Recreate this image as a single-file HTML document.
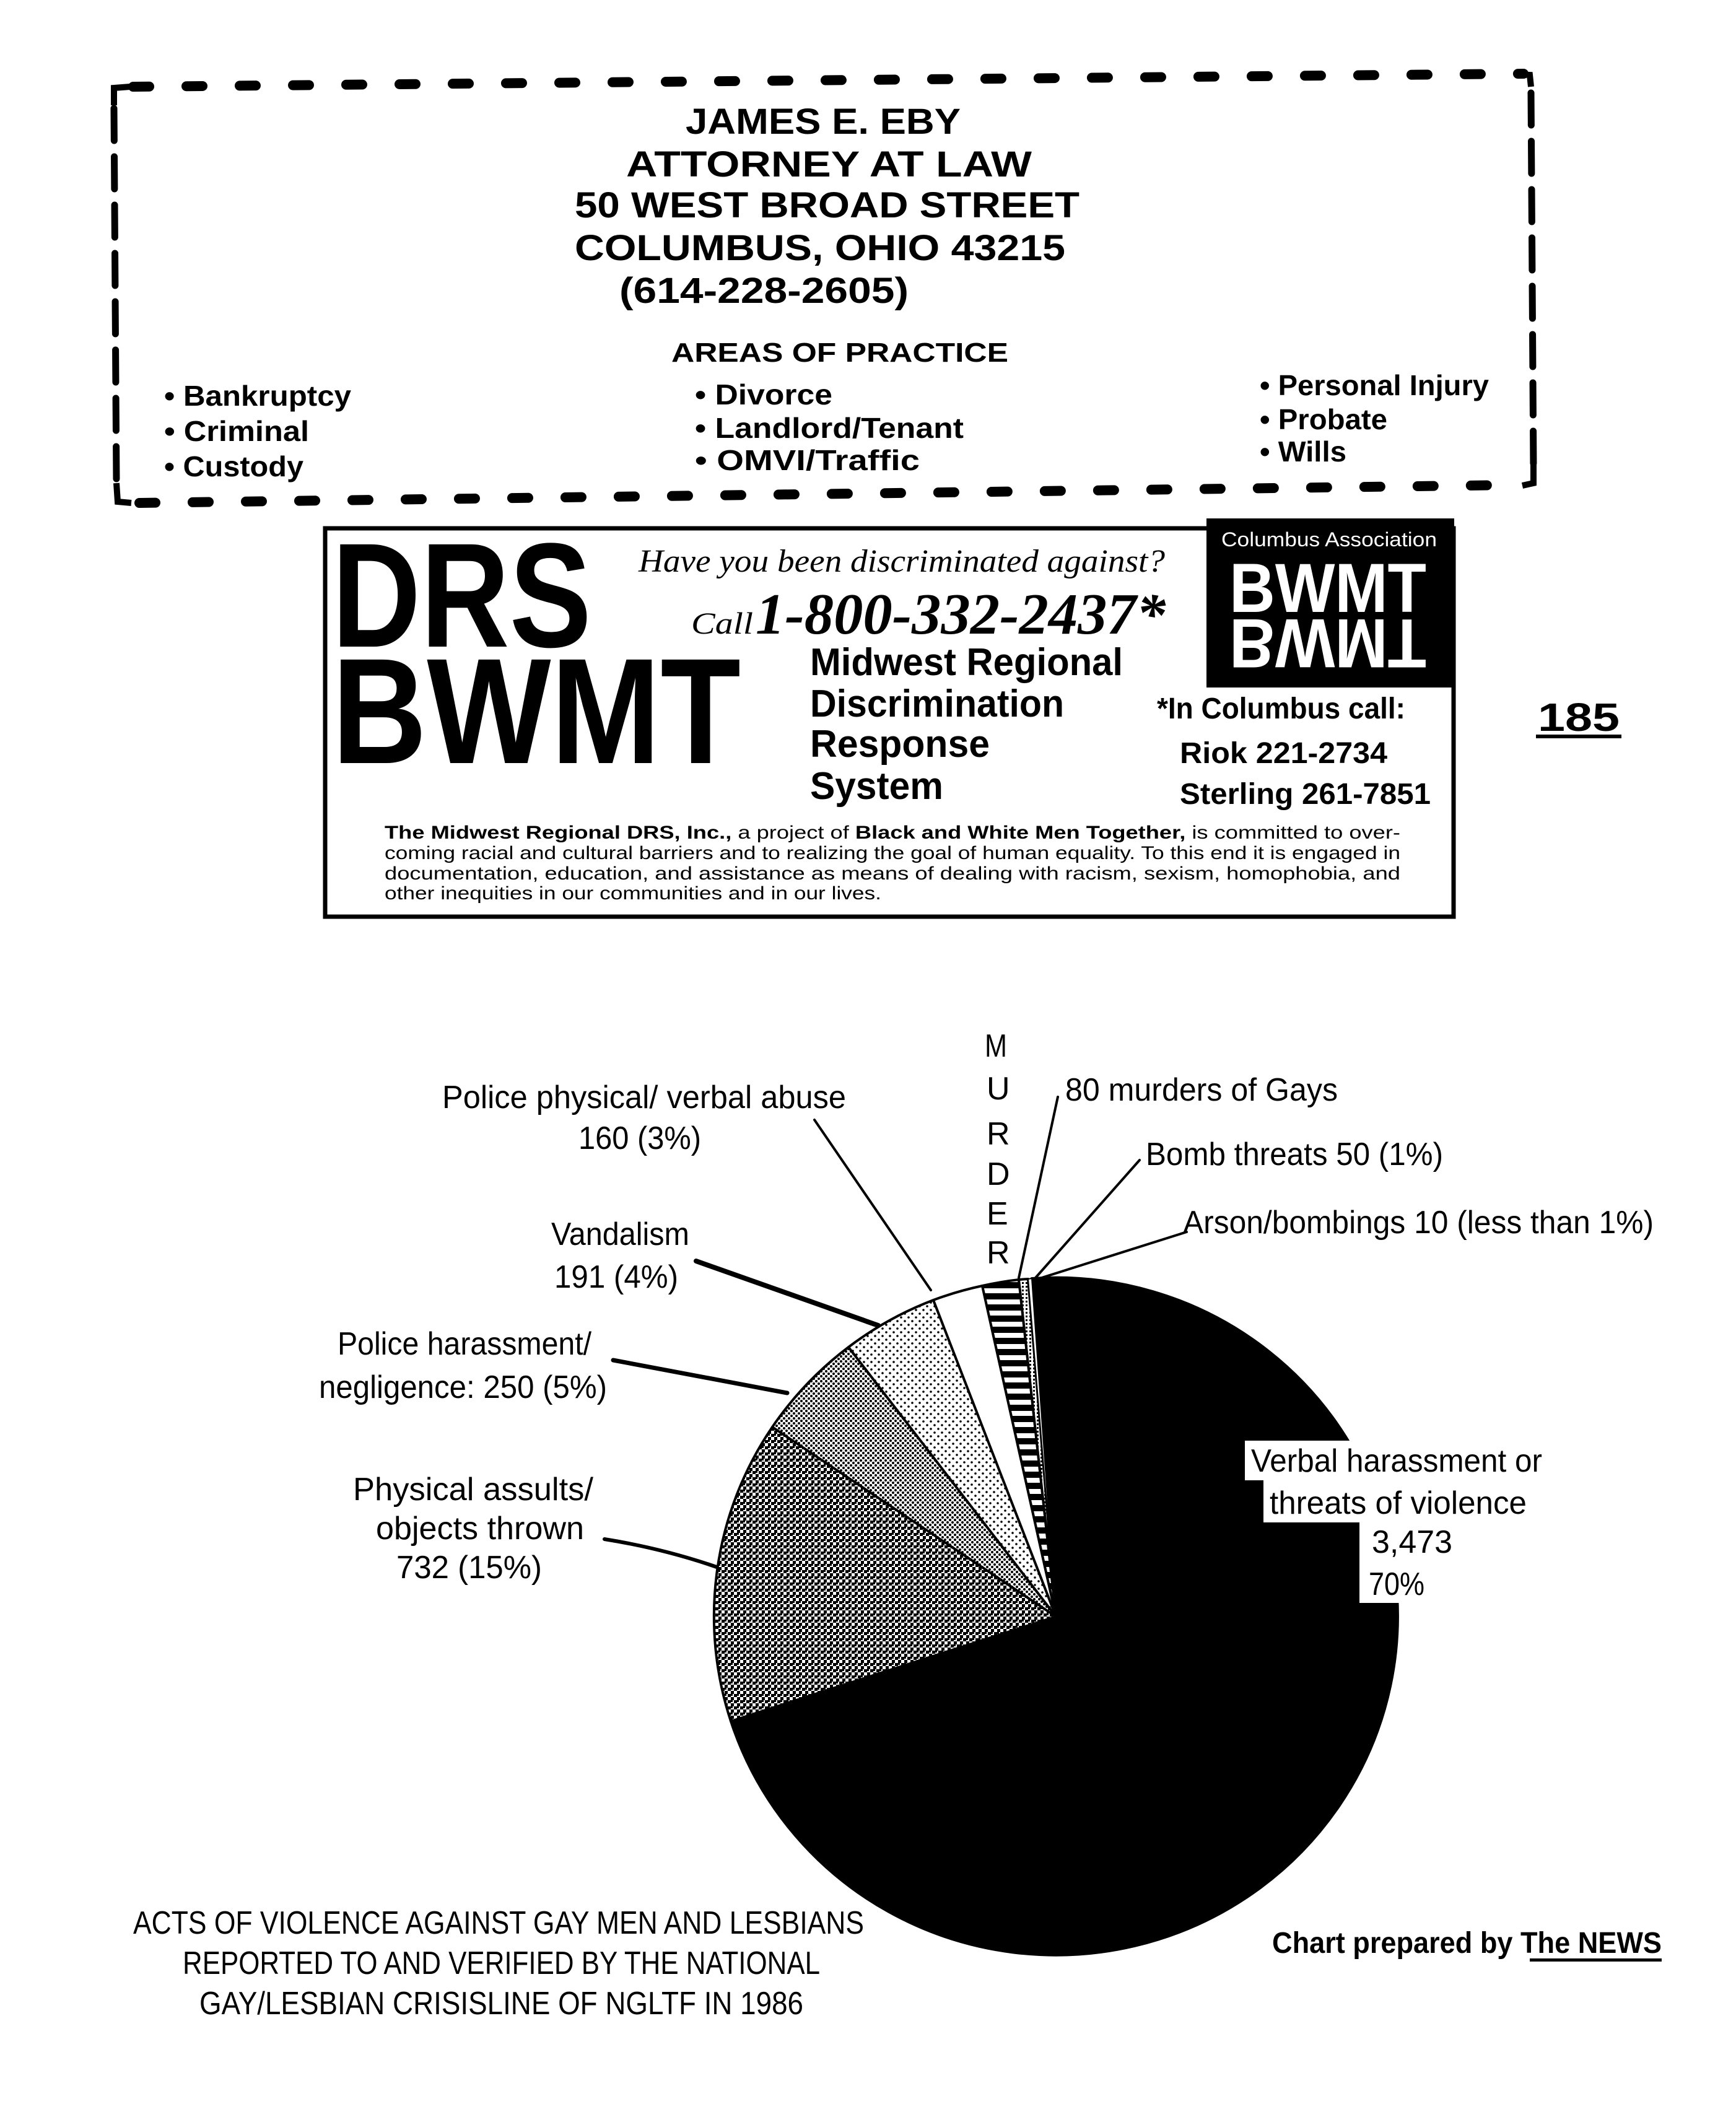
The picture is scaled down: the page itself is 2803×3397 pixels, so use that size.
<!DOCTYPE html>
<html><head><meta charset="utf-8"><style>
html,body{margin:0;padding:0;background:#fff;}
svg{display:block;}
text{font-family:"Liberation Sans",sans-serif;fill:#000;}
.b{font-weight:bold;}
.pl{font-size:52px;}
</style></head><body>
<svg width="2803" height="3397" viewBox="0 0 2803 3397" xmlns="http://www.w3.org/2000/svg">
<defs>
<pattern id="pPhys" width="10" height="10" patternUnits="userSpaceOnUse">
<rect width="10" height="10" fill="#fff"/><rect x="0" y="0" width="5" height="5" fill="#000"/><rect x="5" y="5" width="5" height="5" fill="#000"/><rect x="0" y="5" width="3" height="3" fill="#000"/>
</pattern>
<pattern id="pHar" width="8" height="8" patternUnits="userSpaceOnUse">
<rect width="8" height="8" fill="#fff"/><circle cx="2" cy="2" r="2" fill="#000"/><circle cx="6" cy="6" r="2" fill="#000"/>
</pattern>
<pattern id="pVan" width="12" height="12" patternUnits="userSpaceOnUse">
<rect width="12" height="12" fill="#fff"/><circle cx="3" cy="3" r="1.8" fill="#000"/><circle cx="9" cy="9" r="1.8" fill="#000"/>
</pattern>
<pattern id="pMur" width="20" height="18" patternUnits="userSpaceOnUse">
<rect width="20" height="18" fill="#fff"/><rect y="0" width="20" height="10" fill="#000"/>
</pattern>
<pattern id="pBomb" width="6" height="6" patternUnits="userSpaceOnUse">
<rect width="6" height="6" fill="#fff"/><rect width="3" height="3" fill="#000"/>
</pattern>
<clipPath id="mir"><rect x="1948" y="995" width="400" height="85"/></clipPath>
</defs>

<!-- dashed border -->
<g fill="none" stroke="#000" stroke-linecap="round">
<path d="M215,140 L2460,119" stroke-width="16" stroke-dasharray="26 60"/>
<path d="M184,175 L188,780" stroke-width="11" stroke-dasharray="52 26"/>
<path d="M2472,150 L2476,760" stroke-width="11" stroke-dasharray="52 26"/>
<path d="M225,812 L2440,783" stroke-width="16" stroke-dasharray="26 60"/>
</g>
<path d="M184,170 L184,142 L210,140" fill="none" stroke="#000" stroke-width="10"/>
<path d="M2452,120 L2470,121 L2472,140" fill="none" stroke="#000" stroke-width="10"/>
<path d="M188,780 L190,810 L212,812" fill="none" stroke="#000" stroke-width="10"/>
<path d="M2476,750 L2476,780 L2458,784" fill="none" stroke="#000" stroke-width="10"/>

<g class="b">
<text x="1107" y="216" font-size="58" textLength="444" lengthAdjust="spacingAndGlyphs">JAMES E. EBY</text>
<text x="1011" y="285" font-size="58" textLength="655" lengthAdjust="spacingAndGlyphs">ATTORNEY AT LAW</text>
<text x="928" y="351" font-size="58" textLength="815" lengthAdjust="spacingAndGlyphs">50 WEST BROAD STREET</text>
<text x="928" y="420" font-size="58" textLength="792" lengthAdjust="spacingAndGlyphs">COLUMBUS, OHIO 43215</text>
<text x="1000" y="489" font-size="58" textLength="467" lengthAdjust="spacingAndGlyphs">(614-228-2605)</text>
<text x="1084" y="584" font-size="44" textLength="544" lengthAdjust="spacingAndGlyphs">AREAS OF PRACTICE</text>
<text x="265" y="655" font-size="46" textLength="302" lengthAdjust="spacingAndGlyphs">• Bankruptcy</text>
<text x="265" y="712" font-size="46" textLength="234" lengthAdjust="spacingAndGlyphs">• Criminal</text>
<text x="265" y="769" font-size="46" textLength="225" lengthAdjust="spacingAndGlyphs">• Custody</text>
<text x="1122" y="653" font-size="46" textLength="222" lengthAdjust="spacingAndGlyphs">• Divorce</text>
<text x="1122" y="707" font-size="46" textLength="434" lengthAdjust="spacingAndGlyphs">• Landlord/Tenant</text>
<text x="1122" y="759" font-size="46" textLength="363" lengthAdjust="spacingAndGlyphs">• OMVI/Traffic</text>
<text x="2034" y="638" font-size="46" textLength="370" lengthAdjust="spacingAndGlyphs">• Personal Injury</text>
<text x="2034" y="693" font-size="46" textLength="206" lengthAdjust="spacingAndGlyphs">• Probate</text>
<text x="2034" y="745" font-size="46" textLength="140" lengthAdjust="spacingAndGlyphs">• Wills</text>
</g>

<!-- DRS box -->
<rect x="525" y="853" width="1822" height="627" fill="none" stroke="#000" stroke-width="7"/>
<text class="b" x="536" y="1044" font-size="240" textLength="419" lengthAdjust="spacingAndGlyphs">DRS</text>
<text class="b" x="536" y="1232" font-size="243" textLength="660" lengthAdjust="spacingAndGlyphs">BWMT</text>
<text x="1031" y="923" font-size="52" font-style="italic" style="font-family:'Liberation Serif',serif" textLength="850" lengthAdjust="spacingAndGlyphs">Have you been discriminated against?</text>
<text x="1116" y="1023" font-size="50" font-style="italic" style="font-family:'Liberation Serif',serif" textLength="100" lengthAdjust="spacingAndGlyphs">Call</text>
<text x="1220" y="1023" font-size="94" font-style="italic" font-weight="bold" style="font-family:'Liberation Serif',serif" textLength="662" lengthAdjust="spacingAndGlyphs">1-800-332-2437*</text>
<g class="b">
<text x="1308" y="1090" font-size="62" textLength="505" lengthAdjust="spacingAndGlyphs">Midwest Regional</text>
<text x="1308" y="1157" font-size="62" textLength="410" lengthAdjust="spacingAndGlyphs">Discrimination</text>
<text x="1308" y="1222" font-size="62" textLength="290" lengthAdjust="spacingAndGlyphs">Response</text>
<text x="1308" y="1290" font-size="62" textLength="215" lengthAdjust="spacingAndGlyphs">System</text>
<text x="1868" y="1160" font-size="48" textLength="401" lengthAdjust="spacingAndGlyphs">*In Columbus call:</text>
<text x="1905" y="1232" font-size="48" textLength="335" lengthAdjust="spacingAndGlyphs">Riok 221-2734</text>
<text x="1905" y="1298" font-size="48" textLength="405" lengthAdjust="spacingAndGlyphs">Sterling 261-7851</text>
</g>
<text x="621" y="1354" font-size="30" textLength="1640" lengthAdjust="spacingAndGlyphs"><tspan font-weight="bold">The Midwest Regional DRS, Inc.,</tspan> a project of <tspan font-weight="bold">Black and White Men Together,</tspan> is committed to over-</text>
<text x="621" y="1387" font-size="30" textLength="1640" lengthAdjust="spacingAndGlyphs">coming racial and cultural barriers and to realizing the goal of human equality. To this end it is engaged in</text>
<text x="621" y="1420" font-size="30" textLength="1640" lengthAdjust="spacingAndGlyphs">documentation, education, and assistance as means of dealing with racism, sexism, homophobia, and</text>
<text x="621" y="1452" font-size="30" textLength="802" lengthAdjust="spacingAndGlyphs">other inequities in our communities and in our lives.</text>

<!-- BWMT logo -->
<rect x="1948" y="837" width="400" height="273" fill="#000"/>
<text x="1972" y="882" font-size="32" style="fill:#fff" textLength="348" lengthAdjust="spacingAndGlyphs">Columbus Association</text>
<text class="b" x="1985" y="988" font-size="112" style="fill:#fff" textLength="318" lengthAdjust="spacingAndGlyphs">BWMT</text>
<g clip-path="url(#mir)"><text class="b" x="1985" y="-1000" font-size="112" style="fill:#fff" transform="scale(1,-1)" textLength="318" lengthAdjust="spacingAndGlyphs">BWMT</text></g>

<!-- 185 -->
<text class="b" x="2483" y="1180" font-size="64" textLength="132" lengthAdjust="spacingAndGlyphs">185</text>
<rect x="2480" y="1186" width="138" height="6" fill="#000"/>

<!-- pie -->
<g stroke="#000" stroke-width="4" stroke-linejoin="round">
<path d="M1705,2610 L1666,2064 A552 547 0 1 1 1180,2779 Z" fill="#000"/>
<path d="M1705,2610 L1180,2779 A552 547 0 0 1 1247,2304 Z" fill="url(#pPhys)"/>
<path d="M1705,2610 L1247,2304 A552 547 0 0 1 1370,2175 Z" fill="url(#pHar)"/>
<path d="M1705,2610 L1370,2175 A552 547 0 0 1 1507,2099 Z" fill="url(#pVan)"/>
<path d="M1705,2610 L1507,2099 A552 547 0 0 1 1586,2076 Z" fill="#fff"/>
<path d="M1705,2610 L1586,2076 A552 547 0 0 1 1645,2066 Z" fill="url(#pMur)"/>
<path d="M1705,2610 L1645,2066 A552 547 0 0 1 1660,2065 Z" fill="url(#pBomb)"/>
<path d="M1705,2610 L1660,2065 A552 547 0 0 1 1666,2064 Z" fill="#fff" stroke-width="2"/>
</g>

<!-- leaders -->
<g stroke="#000" fill="none" stroke-linecap="round">
<line x1="1315" y1="1808" x2="1503" y2="2083" stroke-width="4"/>
<line x1="1708" y1="1771" x2="1645" y2="2063" stroke-width="4"/>
<line x1="1840" y1="1873" x2="1672" y2="2063" stroke-width="4"/>
<line x1="1916" y1="1989" x2="1682" y2="2063" stroke-width="4"/>
<line x1="1124" y1="2036" x2="1418" y2="2140" stroke-width="8"/>
<line x1="990" y1="2196" x2="1271" y2="2249" stroke-width="7"/>
<path d="M976,2485 Q1070,2500 1157,2530" stroke-width="6"/>
</g>

<!-- labels -->
<g class="pl">
<text x="1590" y="1706" textLength="36" lengthAdjust="spacingAndGlyphs">M</text>
<text x="1593" y="1775">U</text>
<text x="1593" y="1848">R</text>
<text x="1593" y="1913">D</text>
<text x="1593" y="1977">E</text>
<text x="1593" y="2040">R</text>
<text x="714" y="1789" textLength="652" lengthAdjust="spacingAndGlyphs">Police physical/ verbal abuse</text>
<text x="934" y="1855" textLength="198" lengthAdjust="spacingAndGlyphs">160 (3%)</text>
<text x="1720" y="1777" textLength="440" lengthAdjust="spacingAndGlyphs">80 murders of Gays</text>
<text x="1850" y="1881" textLength="480" lengthAdjust="spacingAndGlyphs">Bomb threats 50 (1%)</text>
<text x="1910" y="1991" textLength="760" lengthAdjust="spacingAndGlyphs">Arson/bombings 10 (less than 1%)</text>
<text x="890" y="2010" textLength="223" lengthAdjust="spacingAndGlyphs">Vandalism</text>
<text x="895" y="2079" textLength="200" lengthAdjust="spacingAndGlyphs">191 (4%)</text>
<text x="545" y="2187" textLength="410" lengthAdjust="spacingAndGlyphs">Police harassment/</text>
<text x="515" y="2257" textLength="465" lengthAdjust="spacingAndGlyphs">negligence: 250 (5%)</text>
<text x="570" y="2422" textLength="388" lengthAdjust="spacingAndGlyphs">Physical assults/</text>
<text x="607" y="2485" textLength="336" lengthAdjust="spacingAndGlyphs">objects thrown</text>
<text x="640" y="2548" textLength="235" lengthAdjust="spacingAndGlyphs">732 (15%)</text>
</g>
<g fill="#fff">
<rect x="2010" y="2326" width="490" height="64"/>
<rect x="2040" y="2390" width="430" height="68"/>
<rect x="2195" y="2456" width="155" height="66"/>
<rect x="2195" y="2520" width="110" height="68"/>
</g>
<g class="pl">
<text x="2020" y="2376" textLength="470" lengthAdjust="spacingAndGlyphs">Verbal harassment or</text>
<text x="2050" y="2444" textLength="415" lengthAdjust="spacingAndGlyphs">threats of violence</text>
<text x="2215" y="2507" textLength="130" lengthAdjust="spacingAndGlyphs">3,473</text>
<text x="2210" y="2575" textLength="90" lengthAdjust="spacingAndGlyphs">70%</text>
<text x="215" y="3122" textLength="1180" lengthAdjust="spacingAndGlyphs">ACTS OF VIOLENCE AGAINST GAY MEN AND LESBIANS</text>
<text x="295" y="3187" textLength="1029" lengthAdjust="spacingAndGlyphs">REPORTED TO AND VERIFIED BY THE NATIONAL</text>
<text x="322" y="3252" textLength="975" lengthAdjust="spacingAndGlyphs">GAY/LESBIAN CRISISLINE OF NGLTF IN 1986</text>
</g>
<text class="b" x="2054" y="3153" font-size="48" textLength="629" lengthAdjust="spacingAndGlyphs">Chart prepared by The NEWS</text>
<rect x="2470" y="3162" width="213" height="5" fill="#000"/>
</svg>
</body></html>
